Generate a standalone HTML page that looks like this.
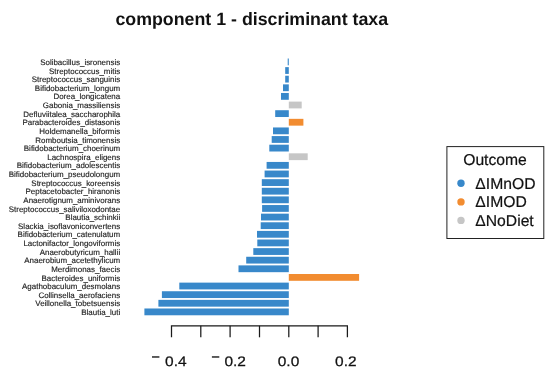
<!DOCTYPE html>
<html><head><meta charset="utf-8"><title>component 1 - discriminant taxa</title>
<style>
html,body{margin:0;padding:0;background:#fff;}
body{width:550px;height:379px;overflow:hidden;position:relative;font-family:"Liberation Sans",sans-serif;}
svg{position:absolute;left:0;top:0;will-change:transform;opacity:0.999;}
text{font-family:"Liberation Sans",sans-serif;text-rendering:geometricPrecision;}
.lab{font-size:7.96px;fill:#1c1c1c;text-anchor:end;stroke:#1c1c1c;stroke-width:0.14px;}
.tick{font-size:13.7px;fill:#111;text-anchor:middle;stroke:#111;stroke-width:0.25px;}
.leg{font-size:15.7px;fill:#111;stroke:#111;stroke-width:0.2px;}
</style></head><body>
<svg width="550" height="379" viewBox="0 0 550 379">
<rect x="0" y="0" width="550" height="379" fill="#ffffff"/>
<text x="251.8" y="24.5" text-anchor="middle" style="font-size:17.8px;font-weight:bold;fill:#111;">component 1 - discriminant taxa</text>

<rect x="287.7" y="58.50" width="1.1" height="6.8" fill="#3888ca"/>
<text class="lab" x="120.2" y="65.00">Solibacillus_isronensis</text>
<rect x="285.2" y="67.12" width="3.6" height="6.8" fill="#3888ca"/>
<text class="lab" x="120.2" y="73.62">Streptococcus_mitis</text>
<rect x="285.2" y="75.74" width="3.6" height="6.8" fill="#3888ca"/>
<text class="lab" x="120.2" y="82.24">Streptococcus_sanguinis</text>
<rect x="283.0" y="84.36" width="5.8" height="6.8" fill="#3888ca"/>
<text class="lab" x="120.2" y="90.86">Bifidobacterium_longum</text>
<rect x="281.0" y="92.98" width="7.8" height="6.8" fill="#3888ca"/>
<text class="lab" x="120.2" y="99.48">Dorea_longicatena</text>
<rect x="288.8" y="101.60" width="12.9" height="6.8" fill="#c6c6c6"/>
<text class="lab" x="120.2" y="108.10">Gabonia_massiliensis</text>
<rect x="275.2" y="110.22" width="13.6" height="6.8" fill="#3888ca"/>
<text class="lab" x="120.2" y="116.72">Defluviitalea_saccharophila</text>
<rect x="288.8" y="118.84" width="14.6" height="6.8" fill="#f28c30"/>
<text class="lab" x="120.2" y="125.34">Parabacteroides_distasonis</text>
<rect x="273.0" y="127.46" width="15.8" height="6.8" fill="#3888ca"/>
<text class="lab" x="120.2" y="133.96">Holdemanella_biformis</text>
<rect x="271.7" y="136.08" width="17.1" height="6.8" fill="#3888ca"/>
<text class="lab" x="120.2" y="142.58">Romboutsia_timonensis</text>
<rect x="269.3" y="144.70" width="19.5" height="6.8" fill="#3888ca"/>
<text class="lab" x="120.2" y="151.20">Bifidobacterium_choerinum</text>
<rect x="288.8" y="153.32" width="18.9" height="6.8" fill="#c6c6c6"/>
<text class="lab" x="120.2" y="159.82">Lachnospira_eligens</text>
<rect x="266.6" y="161.94" width="22.2" height="6.8" fill="#3888ca"/>
<text class="lab" x="120.2" y="168.44">Bifidobacterium_adolescentis</text>
<rect x="264.6" y="170.56" width="24.2" height="6.8" fill="#3888ca"/>
<text class="lab" x="120.2" y="177.06">Bifidobacterium_pseudolongum</text>
<rect x="261.8" y="179.18" width="27.0" height="6.8" fill="#3888ca"/>
<text class="lab" x="120.2" y="185.68">Streptococcus_koreensis</text>
<rect x="261.8" y="187.80" width="27.0" height="6.8" fill="#3888ca"/>
<text class="lab" x="120.2" y="194.30">Peptacetobacter_hiranonis</text>
<rect x="261.8" y="196.42" width="27.0" height="6.8" fill="#3888ca"/>
<text class="lab" x="120.2" y="202.92">Anaerotignum_aminivorans</text>
<rect x="262.1" y="205.04" width="26.7" height="6.8" fill="#3888ca"/>
<text class="lab" x="120.2" y="211.54">Streptococcus_saliviloxodontae</text>
<rect x="261.0" y="213.66" width="27.8" height="6.8" fill="#3888ca"/>
<text class="lab" x="120.2" y="220.16">Blautia_schinkii</text>
<rect x="260.7" y="222.28" width="28.1" height="6.8" fill="#3888ca"/>
<text class="lab" x="120.2" y="228.78">Slackia_isoflavoniconvertens</text>
<rect x="257.0" y="230.90" width="31.8" height="6.8" fill="#3888ca"/>
<text class="lab" x="120.2" y="237.40">Bifidobacterium_catenulatum</text>
<rect x="257.3" y="239.52" width="31.5" height="6.8" fill="#3888ca"/>
<text class="lab" x="120.2" y="246.02">Lactonifactor_longoviformis</text>
<rect x="253.3" y="248.14" width="35.5" height="6.8" fill="#3888ca"/>
<text class="lab" x="120.2" y="254.64">Anaerobutyricum_hallii</text>
<rect x="246.2" y="256.76" width="42.6" height="6.8" fill="#3888ca"/>
<text class="lab" x="120.2" y="263.26">Anaerobium_acetethylicum</text>
<rect x="238.5" y="265.38" width="50.3" height="6.8" fill="#3888ca"/>
<text class="lab" x="120.2" y="271.88">Merdimonas_faecis</text>
<rect x="288.8" y="274.00" width="70.3" height="6.8" fill="#f28c30"/>
<text class="lab" x="120.2" y="280.50">Bacteroides_uniformis</text>
<rect x="179.3" y="282.62" width="109.5" height="6.8" fill="#3888ca"/>
<text class="lab" x="120.2" y="289.12">Agathobaculum_desmolans</text>
<rect x="161.9" y="291.24" width="126.9" height="6.8" fill="#3888ca"/>
<text class="lab" x="120.2" y="297.74">Collinsella_aerofaciens</text>
<rect x="158.4" y="299.86" width="130.4" height="6.8" fill="#3888ca"/>
<text class="lab" x="120.2" y="306.36">Veillonella_tobetsuensis</text>
<rect x="144.4" y="308.48" width="144.4" height="6.8" fill="#3888ca"/>
<text class="lab" x="120.2" y="314.98">Blautia_luti</text>
<path d="M171.5 337.3V325.8H347.4V337.3" fill="none" stroke="#1a1a1a" stroke-width="1.25"/>
<path d="M200.8 325.8V337.3" fill="none" stroke="#1a1a1a" stroke-width="1.25"/>
<path d="M230.1 325.8V337.3" fill="none" stroke="#1a1a1a" stroke-width="1.25"/>
<path d="M259.5 325.8V337.3" fill="none" stroke="#1a1a1a" stroke-width="1.25"/>
<path d="M288.8 325.8V337.3" fill="none" stroke="#1a1a1a" stroke-width="1.25"/>
<path d="M318.1 325.8V337.3" fill="none" stroke="#1a1a1a" stroke-width="1.25"/>
<text class="tick" transform="translate(175.8 365.5) scale(1.13 1)" x="0" y="0">0.4</text>
<text class="tick" transform="translate(235.2 365.5) scale(1.13 1)" x="0" y="0">0.2</text>
<text class="tick" transform="translate(288.5 365.5) scale(1.13 1)" x="0" y="0">0.0</text>
<text class="tick" transform="translate(345.8 365.5) scale(1.13 1)" x="0" y="0">0.2</text>
<rect x="152" y="356.3" width="7.4" height="1.35" fill="#111"/>
<rect x="211.9" y="356.3" width="7.4" height="1.35" fill="#111"/>
<rect x="446.9" y="146.6" width="96.9" height="91.9" fill="#fff" stroke="#222" stroke-width="1"/>
<text class="leg" x="463.2" y="165">Outcome</text>
<circle cx="461" cy="183.3" r="3.7" fill="#3888ca"/>
<text class="leg" x="475.3" y="188.8">ΔIMnOD</text>
<circle cx="461" cy="201.9" r="3.7" fill="#f28c30"/>
<text class="leg" x="475.3" y="207.4">ΔIMOD</text>
<circle cx="461" cy="220.4" r="3.7" fill="#c6c6c6"/>
<text class="leg" x="475.3" y="225.9">ΔNoDiet</text>
</svg></body></html>
